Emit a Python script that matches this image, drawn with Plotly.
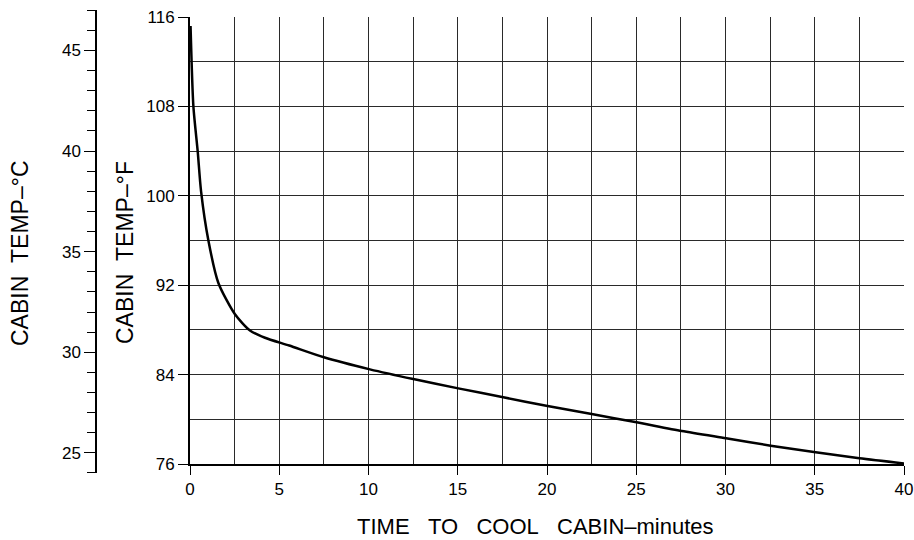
import plotly.graph_objects as go

# ---- data ----
time_min = [0.03, 0.19, 0.43, 0.62, 1.03, 1.59, 2.52, 3.36, 4.2, 5.56, 7.5,
            10.08, 12.51, 15.03, 17.55, 20.03, 22.5, 25.02, 27.55, 30.03,
            32.53, 35.05, 37.5, 40.0]
temp_f = [115.2, 108.0, 104.0, 100.4, 96.0, 92.2, 89.4, 87.95, 87.3, 86.6, 85.55,
          84.47, 83.6, 82.77, 81.97, 81.19, 80.47, 79.73, 78.95, 78.3,
          77.64, 77.05, 76.51, 76.05]

x_range = [0, 40]
f_range = [76, 116]
c_range = [24, 47]
x_ticks = [0, 5, 10, 15, 20, 25, 30, 35, 40]
f_ticks = [76, 84, 92, 100, 108, 116]
c_ticks = [25, 30, 35, 40, 45]

x_title = "TIME\u00a0\u00a0\u00a0TO\u00a0\u00a0\u00a0COOL\u00a0\u00a0\u00a0CABIN\u2013minutes"
f_title = "CABIN\u00a0\u00a0TEMP\u2013\u00b0F"
c_title = "CABIN\u00a0\u00a0TEMP\u2013\u00b0C"

# ---- layout geometry ----
W, H = 914, 540
ML, MR, MT, MB = 90, 10, 10, 67
PW, PH = W - ML - MR, H - MT - MB
X0_PX, X1_PX = 190, 904          # pixel of x=0 and x=40
YTOP_PX, YBOT_PX = 17, 464       # pixel of 116 F and 76 F


def fy(px):
    return (H - MB - px) / PH


def fx(px):
    return (px - ML) / PW


def f_to_px(f):
    return YTOP_PX + (f_range[1] - f) * (YBOT_PX - YTOP_PX) / (f_range[1] - f_range[0])


def c_to_f(c):
    return c * 9 / 5 + 32


FONT = "Liberation Sans, Arial, sans-serif"
GRID = "#2a2a2a"

fig = go.Figure()
fig.add_trace(go.Scatter(x=time_min, y=temp_f, mode="lines",
                         line=dict(color="black", width=2.5, shape="spline", smoothing=0.7),
                         hoverinfo="skip", showlegend=False))
# invisible trace to carry the Celsius axis
fig.add_trace(go.Scatter(x=[20], y=[30], xaxis="x2", yaxis="y2", mode="markers",
                         marker=dict(opacity=0), hoverinfo="skip", showlegend=False))

fig.update_layout(
    width=W, height=H,
    margin=dict(l=ML, r=MR, t=MT, b=MB, autoexpand=False),
    paper_bgcolor="white", plot_bgcolor="rgba(0,0,0,0)",
    font=dict(family=FONT, color="black", size=17),
    xaxis=dict(range=x_range, domain=[fx(X0_PX), fx(X1_PX)], tickvals=x_ticks,
               ticks="outside", ticklen=9, tickwidth=1.3, tickcolor="black",
               showline=True, linecolor="black", linewidth=2,
               showgrid=True, gridcolor=GRID, gridwidth=1,
               minor=dict(dtick=2.5, tick0=0, showgrid=True, gridcolor=GRID, gridwidth=1),
               zeroline=False, tickfont=dict(size=17), anchor="y", automargin=False),
    yaxis=dict(range=f_range, domain=[fy(YBOT_PX), fy(YTOP_PX)], tickvals=f_ticks,
               ticks="outside", ticklen=10, tickwidth=1.3, tickcolor="black",
               showline=True, linecolor="black", linewidth=2,
               showgrid=True, gridcolor=GRID, gridwidth=1,
               minor=dict(dtick=4, tick0=0, showgrid=True, gridcolor=GRID, gridwidth=1),
               zeroline=False, tickfont=dict(size=17), anchor="x", automargin=False),
    xaxis2=dict(range=x_range, domain=[fx(X0_PX), fx(X1_PX)], visible=False, anchor="y2"),
    yaxis2=dict(range=c_range,
                domain=[fy(f_to_px(c_to_f(c_range[0]))), fy(f_to_px(c_to_f(c_range[1])))],
                anchor="free", position=fx(96), side="left",
                tickvals=c_ticks, ticks="outside", ticklen=11, tickwidth=1.3, tickcolor="black",
                minor=dict(dtick=1, tick0=0, ticks="outside", ticklen=8, tickwidth=1.2,
                           tickcolor="black"),
                showline=True, linecolor="black", linewidth=1.5,
                showgrid=False, zeroline=False, tickfont=dict(size=17), automargin=False),
    annotations=[
        dict(text=x_title, xref="paper", yref="paper", x=fx(355), y=fy(526),
             xanchor="left", yanchor="middle", showarrow=False, font=dict(size=22)),
        dict(text=f_title, xref="paper", yref="paper", x=fx(125), y=fy(253),
             xanchor="center", yanchor="middle", textangle=-90, showarrow=False,
             font=dict(size=23)),
        dict(text=c_title, xref="paper", yref="paper", x=fx(20), y=fy(253),
             xanchor="center", yanchor="middle", textangle=-90, showarrow=False,
             font=dict(size=23)),
    ],
)

fig.write_html("out.html", config={"displayModeBar": False},
               post_script="document.body.style.margin='0';document.body.style.overflow='hidden';")
